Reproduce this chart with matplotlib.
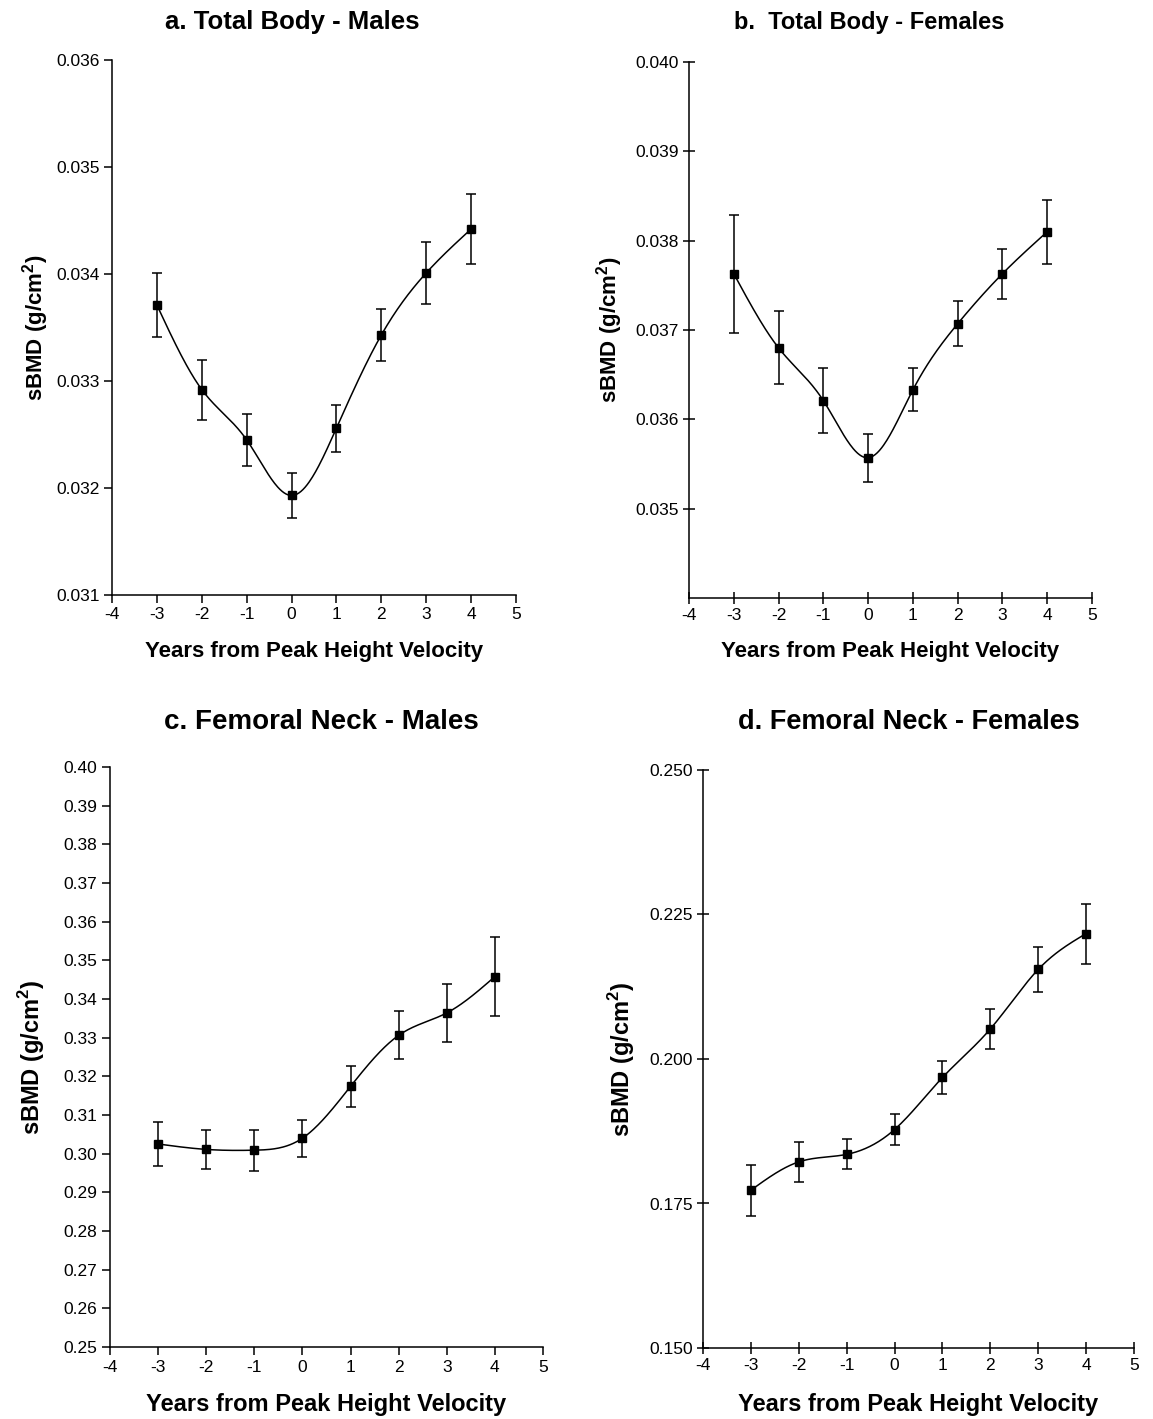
import numpy as np
import matplotlib
matplotlib.use("Agg")
import matplotlib.pyplot as plt
from matplotlib.ticker import FormatStrFormatter

plt.rcParams['font.family'] = ['Liberation Sans', 'DejaVu Sans']
plt.rcParams['mathtext.fontset'] = 'custom'
plt.rcParams['mathtext.rm'] = 'Liberation Sans:bold'
plt.rcParams['mathtext.bf'] = 'Liberation Sans:bold'
plt.rcParams['axes.unicode_minus'] = False

# Years relative to peak height velocity
years = [-3, -2, -1, 0, 1, 2, 3, 4]

# Total body sBMD (g/cm^2), mean and standard error
tb_male_mean = [0.03371, 0.03292, 0.03245, 0.03193, 0.03256, 0.03343, 0.03401, 0.03442]
tb_male_se = [0.00030, 0.00028, 0.00024, 0.00021, 0.00022, 0.00024, 0.00029, 0.00033]
tb_female_mean = [0.03763, 0.03680, 0.03621, 0.03557, 0.03633, 0.03707, 0.03763, 0.03810]
tb_female_se = [0.00066, 0.00041, 0.00036, 0.00027, 0.00024, 0.00025, 0.00028, 0.00036]

# Femoral neck sBMD (g/cm^2), mean and standard error
fn_male_mean = [0.3025, 0.3011, 0.3009, 0.3040, 0.3174, 0.3306, 0.3364, 0.3458]
fn_male_se = [0.0056, 0.0050, 0.0053, 0.0048, 0.0053, 0.0062, 0.0075, 0.0102]
fn_female_mean = [0.1773, 0.1822, 0.1835, 0.1878, 0.1968, 0.2052, 0.2155, 0.2217]
fn_female_se = [0.0044, 0.0035, 0.0026, 0.0026, 0.0028, 0.0034, 0.0039, 0.0052]

x_ticks = [-4, -3, -2, -1, 0, 1, 2, 3, 4, 5]
titles = ["a. Total Body - Males", "b.  Total Body - Females",
          "c. Femoral Neck - Males", "d. Femoral Neck - Females"]
xlabel = "Years from Peak Height Velocity"
ylabel = r"sBMD (g/cm$^{\mathbf{2}}$)"


def natural_spline(x, y, num=300):
    """Natural cubic spline through (x, y)."""
    x = np.asarray(x, float)
    y = np.asarray(y, float)
    n = len(x)
    h = np.diff(x)
    A = np.zeros((n, n))
    r = np.zeros(n)
    A[0, 0] = A[-1, -1] = 1.0
    for i in range(1, n - 1):
        A[i, i - 1] = h[i - 1]
        A[i, i] = 2 * (h[i - 1] + h[i])
        A[i, i + 1] = h[i]
        r[i] = 6 * ((y[i + 1] - y[i]) / h[i] - (y[i] - y[i - 1]) / h[i - 1])
    M = np.linalg.solve(A, r)
    xs = np.linspace(x[0], x[-1], num)
    idx = np.clip(np.searchsorted(x, xs) - 1, 0, n - 2)
    x0, x1 = x[idx], x[idx + 1]
    hh = x1 - x0
    a = (x1 - xs) / hh
    b = (xs - x0) / hh
    ys = (a * y[idx] + b * y[idx + 1]
          + ((a ** 3 - a) * M[idx] + (b ** 3 - b) * M[idx + 1]) * hh ** 2 / 6)
    return xs, ys


W, H = 1153, 1419
fig = plt.figure(figsize=(W / 100, H / 100), dpi=100)


def px_axes(left, right, top, bottom):
    return fig.add_axes([left / W, 1 - bottom / H, (right - left) / W, (bottom - top) / H])


panels = [
    dict(box=(112, 516, 60, 595), mean=tb_male_mean, se=tb_male_se,
         ylim=(0.031, 0.036), yticks=np.arange(0.031, 0.03601, 0.001), fmt='%.3f',
         tdir='out', tsize=18.5, lsize=16,
         title_xy=(292, 22), xl_y=652, yl_x=36),
    dict(box=(689, 1092, 62, 598), mean=tb_female_mean, se=tb_female_se,
         ylim=(0.034, 0.040), yticks=np.arange(0.035, 0.04001, 0.001), fmt='%.3f',
         tdir='inout', tsize=17, lsize=16,
         title_xy=(869, 22), xl_y=652, yl_x=610),
    dict(box=(110, 543, 767, 1347), mean=fn_male_mean, se=fn_male_se,
         ylim=(0.25, 0.40), yticks=np.arange(0.25, 0.4001, 0.01), fmt='%.2f',
         tdir='out', tsize=20, lsize=17,
         title_xy=(321, 722), xl_y=1405, yl_x=32),
    dict(box=(703, 1134, 770, 1348), mean=fn_female_mean, se=fn_female_se,
         ylim=(0.150, 0.250), yticks=np.arange(0.150, 0.2501, 0.025), fmt='%.3f',
         tdir='inout', tsize=19.5, lsize=17,
         title_xy=(909, 722), xl_y=1405, yl_x=622),
]

for p, title in zip(panels, titles):
    l, r, t, b = p['box']
    ax = px_axes(l, r, t, b)
    xs, ys = natural_spline(years, p['mean'])
    ax.plot(xs, ys, color='black', lw=1.1, zorder=2)
    ax.errorbar(years, p['mean'], yerr=p['se'], fmt='s', color='black',
                ms=6, elinewidth=1.1, capsize=3.6, capthick=1.1, zorder=3)
    ax.set_xlim(-4, 5)
    ax.set_ylim(*p['ylim'])
    ax.set_xticks(x_ticks)
    ax.set_yticks(p['yticks'])
    ax.yaxis.set_major_formatter(FormatStrFormatter(p['fmt']))
    for side in ('top', 'right'):
        ax.spines[side].set_visible(False)
    for side in ('left', 'bottom'):
        ax.spines[side].set_linewidth(1.1)
    tl = 6 if p['tdir'] == 'out' else 9
    ax.tick_params(direction=p['tdir'], length=tl, width=1.1, labelsize=12.5, pad=3)
    ax.patch.set_alpha(0)

    fig.text(p['title_xy'][0] / W, 1 - p['title_xy'][1] / H, title,
             ha='center', va='center', fontsize=p['tsize'], fontweight='bold')
    cx = (l + r) / 2
    fig.text(cx / W, 1 - p['xl_y'] / H, xlabel, ha='center', va='center',
             fontsize=p['lsize'], fontweight='bold')
    fig.text(p['yl_x'] / W, 1 - ((t + b) / 2) / H, ylabel, ha='center', va='center',
             rotation=90, fontsize=p['lsize'], fontweight='bold')

fig.savefig("out.png", dpi=100, facecolor='white')
